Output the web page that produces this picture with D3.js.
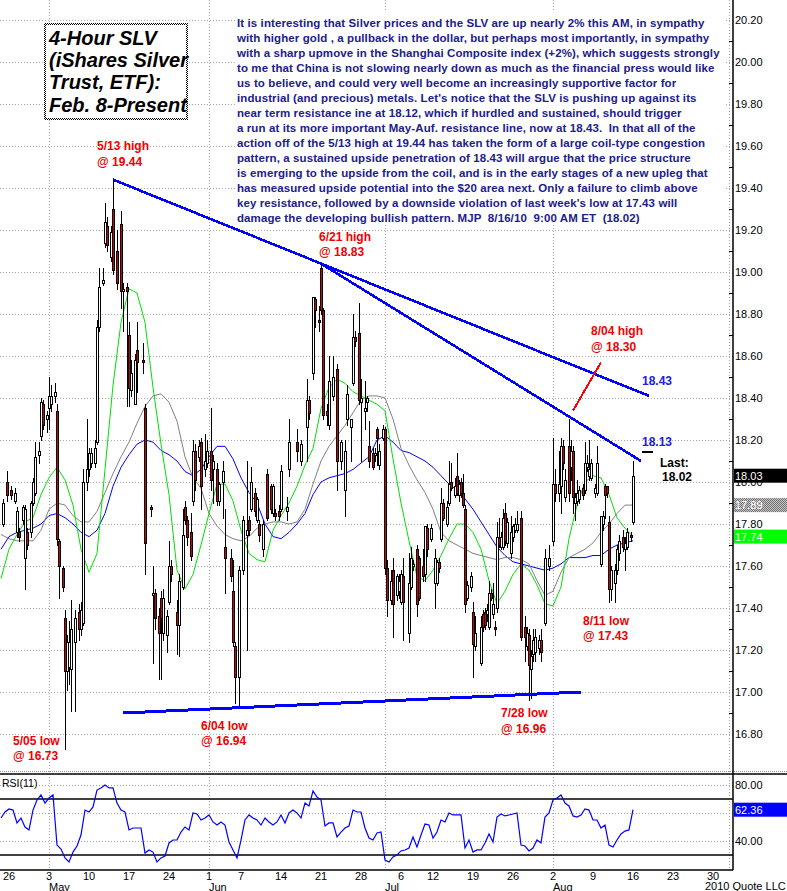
<!DOCTYPE html>
<html><head><meta charset="utf-8">
<script src="https://cdn.jsdelivr.net/npm/d3@7"></script>
<style>
html,body{margin:0;padding:0;background:#fff;}
svg{display:block;font-family:"Liberation Sans",Arial,Helvetica,sans-serif;}
</style></head><body>
<svg id="chart" width="787" height="891"></svg>
<script>
// ---------- price bars (4-hour slots; slot = 4 * tradingDayIndex + bar) ----------
const barSlot  = [2,4,6,8,9,10,12,13,14,16,17,18,20,21,22,24,25,26,28,29,30,32,33,34,35,36,38,40,41,42,44,45,46,48,49,50,52,53,54,56,57,59,61,62,64,65,66,68,69,72,73,76,77,78,80,81,82,84,85,86,89,90,92,93,94,96,97,98,100,101,103,104,106,107,109,110,112,113,116,117,118,120,122,124,125,126,128,129,130,132,134,136,137,138,140,141,144,145,149,151,154,155,157,158,160,161,162,164,165,167,169,171,173,174,176,177,178,180,181,183,184,185,187,188,189,190,192,193,194,196,197,199,200,201,202,205,206,207,209,210,212,213,214,216,218,219,220,221,222,224,225,226,228,229,230,231,232,233,234,236,237,238,241,242,243,244,245,246,247,248,249,250,251,252,253,254,256,257,258,259,261,263,264,265,266,267,268,270,271,273,275,277,278,280,281,282,283,285,286,287,288,289,290,292,293,294,295,296,298,299,301,302,303,304,305,306,308,309,310,312,313,314,316,317];
const barOpen  = [17.80,18.00,17.96,17.91,17.76,17.76,17.82,17.64,17.76,17.76,17.90,17.95,18.13,18.22,18.37,18.30,18.35,18.37,18.41,18.34,17.72,17.59,17.35,17.10,17.12,17.11,17.24,17.38,17.30,17.33,18.00,18.06,18.09,18.09,18.19,18.74,18.95,19.14,19.22,19.07,19.30,19.10,19.23,18.91,18.93,18.70,18.44,18.37,18.63,18.58,18.35,17.88,17.46,17.47,17.36,17.45,17.28,17.27,17.43,17.60,17.38,17.32,17.50,17.88,17.82,17.76,17.91,18.15,18.12,18.19,18.06,18.09,18.15,18.06,18.06,17.91,18.00,17.69,17.64,17.48,17.22,17.07,17.58,17.75,17.82,17.87,17.95,17.82,17.80,17.68,18.04,17.98,17.85,17.85,17.86,17.87,17.86,18.06,18.19,18.10,18.26,18.39,18.52,18.87,18.77,19.02,18.82,18.34,18.27,18.41,18.54,18.10,17.96,18.30,18.26,18.47,18.69,18.71,18.38,18.34,18.38,18.17,18.14,18.13,18.25,18.08,18.21,18.25,17.59,17.44,17.58,17.46,17.48,17.43,17.55,17.28,17.50,17.60,17.68,17.64,17.60,17.56,17.78,17.73,17.52,17.52,17.62,17.73,17.90,17.80,17.90,18.00,17.94,18.03,17.94,18.00,17.95,17.87,17.45,17.50,17.38,17.22,17.14,17.37,17.38,17.37,17.31,17.47,17.37,17.31,17.40,17.74,17.69,17.69,17.85,17.71,17.66,17.74,17.77,17.77,17.83,17.31,17.22,17.27,17.11,17.18,17.19,17.21,17.25,17.33,17.60,17.72,17.99,17.95,17.98,18.17,17.93,18.17,18.07,18.15,17.90,17.91,17.92,17.97,17.96,18.07,18.03,18.02,17.95,17.95,17.61,17.80,17.98,17.98,17.81,17.49,17.52,17.58,17.66,17.74,17.68,17.69,17.75,17.81];
const barHigh  = [17.92,18.05,17.98,17.97,17.88,17.78,17.89,17.89,17.78,17.91,18.02,18.19,18.19,18.40,18.39,18.34,18.50,18.46,18.47,18.37,17.73,17.60,17.39,17.27,17.34,17.44,17.39,17.42,17.43,18.06,18.30,18.16,18.16,18.20,18.77,19.02,19.02,19.33,19.26,19.22,19.44,19.20,19.29,18.95,18.95,18.76,18.58,18.61,18.76,18.66,18.37,17.89,17.60,17.49,17.40,17.48,17.49,17.39,17.72,17.63,17.44,17.56,17.87,17.91,17.84,17.85,18.20,18.18,18.20,18.21,18.23,18.20,18.35,18.13,18.09,18.00,18.10,17.87,17.68,17.63,17.24,17.60,17.84,18.10,17.84,18.07,17.97,17.93,17.82,17.82,18.06,17.99,17.99,17.87,17.89,18.08,17.93,18.30,18.25,18.20,18.49,18.41,18.88,18.88,18.84,19.04,18.83,18.37,18.60,18.60,18.56,18.20,18.20,18.46,18.30,18.80,18.72,18.85,18.49,18.48,18.41,18.29,18.16,18.16,18.26,18.18,18.27,18.26,17.63,17.58,17.64,17.56,17.56,17.58,17.64,17.66,17.69,17.63,17.70,17.65,17.68,17.79,17.80,17.80,17.68,17.63,17.64,17.97,17.92,17.91,18.10,18.09,18.02,18.14,18.01,18.02,18.04,17.89,17.53,17.57,17.43,17.36,17.36,17.39,17.40,17.42,17.53,17.49,17.52,17.34,17.81,17.83,17.76,17.87,17.90,17.83,17.84,17.80,17.83,17.86,17.86,17.36,17.31,17.30,17.20,17.30,17.30,17.27,17.30,17.68,17.70,18.21,18.06,18.15,18.21,18.20,18.06,18.30,18.20,18.17,17.95,18.01,17.98,17.99,18.19,18.13,18.20,18.11,17.99,18.17,17.84,17.86,17.99,17.98,17.84,17.60,17.61,17.70,17.75,17.77,17.74,17.78,17.76,18.10];
const barLow   = [17.79,17.91,17.92,17.90,17.74,17.72,17.80,17.49,17.68,17.74,17.89,17.94,18.09,18.20,18.25,18.24,18.25,18.34,18.38,17.70,17.45,17.48,16.73,17.01,17.04,16.91,16.91,17.25,17.27,17.32,17.96,18.03,18.07,18.07,18.18,18.72,18.94,19.12,19.10,19.05,18.99,18.92,18.83,18.72,18.36,18.36,18.41,18.37,18.43,18.52,17.56,17.84,17.14,17.30,17.06,17.06,17.25,17.19,17.42,17.53,17.18,17.17,17.49,17.80,17.70,17.63,17.89,17.96,18.10,17.87,18.03,18.07,17.96,17.90,17.89,17.89,17.83,17.47,17.53,17.22,16.95,16.94,17.56,17.20,17.75,17.86,17.84,17.81,17.72,17.65,17.82,17.85,17.84,17.82,17.82,17.86,17.82,18.03,18.10,18.08,18.10,18.30,18.49,18.74,18.72,18.80,18.30,18.27,18.25,18.39,17.96,18.06,17.84,18.27,18.10,18.46,18.65,18.37,18.10,18.25,18.34,18.07,18.06,18.10,18.08,18.06,18.20,17.56,17.36,17.42,17.26,17.44,17.45,17.42,17.25,17.24,17.49,17.58,17.36,17.44,17.53,17.53,17.65,17.72,17.40,17.51,17.57,17.72,17.82,17.79,17.89,17.96,17.93,17.94,17.91,17.93,17.88,17.38,17.44,17.48,17.07,17.20,17.13,17.29,17.30,17.34,17.30,17.44,17.35,17.27,17.38,17.69,17.68,17.68,17.70,17.69,17.64,17.72,17.76,17.76,17.25,17.15,17.20,16.96,16.97,17.15,17.15,17.18,17.15,17.32,17.58,17.70,17.91,17.91,17.85,18.06,17.91,17.91,18.01,17.85,17.82,17.89,17.90,17.92,17.95,18.05,18.01,18.01,17.93,17.94,17.60,17.77,17.83,17.93,17.43,17.44,17.43,17.56,17.63,17.67,17.58,17.68,17.72,17.80];
const barClose = [17.90,17.94,17.94,17.95,17.86,17.74,17.88,17.87,17.70,17.90,18.00,18.12,18.15,18.38,18.27,18.32,18.41,18.41,18.43,17.73,17.60,17.50,17.10,17.24,17.24,17.30,17.35,17.30,17.39,18.00,18.06,18.14,18.14,18.16,18.74,18.93,18.96,19.24,19.13,19.19,19.01,18.95,18.91,18.92,18.91,18.45,18.52,18.58,18.57,18.57,17.71,17.87,17.47,17.35,17.28,17.35,17.45,17.36,17.60,17.56,17.32,17.53,17.75,17.82,17.74,17.65,18.15,18.01,18.17,17.98,18.10,18.15,18.01,18.10,17.91,17.99,18.05,17.64,17.55,17.24,17.07,17.58,17.82,17.77,17.77,18.00,17.86,17.92,17.75,17.80,17.83,17.87,17.98,17.84,17.84,18.05,17.88,18.19,18.15,18.18,18.39,18.33,18.88,18.82,18.76,18.82,18.32,18.32,18.48,18.50,18.10,18.19,18.15,18.42,18.30,18.69,18.67,18.39,18.40,18.35,18.40,18.10,18.07,18.14,18.21,18.15,18.25,17.59,17.44,17.53,17.42,17.55,17.53,17.56,17.43,17.52,17.64,17.61,17.42,17.45,17.55,17.79,17.68,17.78,17.64,17.62,17.59,17.90,17.83,17.88,17.99,17.97,17.98,17.95,17.99,17.95,17.89,17.42,17.51,17.55,17.23,17.28,17.31,17.31,17.32,17.39,17.47,17.45,17.42,17.30,17.74,17.70,17.74,17.83,17.72,17.81,17.76,17.79,17.80,17.80,17.26,17.26,17.28,17.13,17.17,17.25,17.26,17.25,17.19,17.64,17.64,17.99,17.95,17.99,18.17,18.09,18.01,17.95,18.15,17.93,17.93,17.95,17.96,17.94,18.09,18.09,18.06,18.09,17.97,18.09,17.84,17.84,17.94,17.95,17.49,17.58,17.58,17.68,17.72,17.69,17.71,17.76,17.74,18.03];

// ---------- moving averages, one reading per trading day ----------
const maFast = [17.54,17.68,17.75,17.81,17.83,17.94,18.02,18.07,18.01,17.89,17.68,17.57,17.66,18.06,18.46,18.76,18.92,18.90,18.76,18.45,18.18,17.94,17.58,17.49,17.56,17.70,17.85,17.99,17.99,17.91,17.77,17.66,17.63,17.62,17.77,17.84,17.90,17.98,18.08,18.16,18.35,18.45,18.49,18.47,18.43,18.41,18.39,18.37,18.34,18.11,17.90,17.72,17.55,17.53,17.58,17.65,17.73,17.80,17.80,17.76,17.68,17.53,17.42,17.48,17.56,17.61,17.58,17.51,17.42,17.41,17.50,17.73,17.89,18.00,18.03,18.02,17.94,17.83,17.78,17.74];
const maMid  = [17.75,17.73,17.72,17.72,17.72,17.77,17.87,17.90,17.89,17.84,17.81,17.81,17.86,17.95,18.04,18.12,18.19,18.28,18.36,18.41,18.42,18.38,18.29,18.12,18.02,17.97,17.85,17.79,17.75,17.73,17.72,17.74,17.78,17.80,17.81,17.81,17.80,17.81,17.87,17.99,18.10,18.17,18.22,18.27,18.33,18.39,18.41,18.41,18.40,18.30,18.16,18.08,18.01,17.95,17.87,17.76,17.72,17.70,17.68,17.66,17.65,17.64,17.63,17.64,17.64,17.63,17.61,17.53,17.46,17.48,17.57,17.64,17.66,17.68,17.71,17.76,17.80,17.85,17.89,17.89];
const maSlow = [17.68,17.74,17.76,17.77,17.78,17.80,17.84,17.85,17.83,17.80,17.76,17.74,17.77,17.85,17.98,18.07,18.13,18.18,18.20,18.19,18.15,18.13,18.10,18.05,18.03,18.06,18.12,18.17,18.17,18.11,18.02,17.95,17.90,17.80,17.74,17.73,17.76,17.80,17.85,17.94,18.00,18.02,18.03,18.04,18.06,18.09,18.12,18.20,18.22,18.19,18.15,18.14,18.12,18.10,18.07,18.03,17.99,17.96,17.92,17.87,17.81,17.75,17.69,17.65,17.62,17.61,17.60,17.59,17.58,17.59,17.61,17.64,17.64,17.64,17.65,17.65,17.68,17.70,17.71,17.72];

// ---------- RSI(11), one reading every second slot starting at slot 1 ----------
const rsiValues = [56.4,60.7,62.9,62.1,52.9,56.4,50,47.9,62.1,69.3,72.9,67.1,70.7,72.9,37.1,34.3,27.9,25,32.1,36.4,44.3,62.1,60.7,64.3,76.4,77.9,80,77.9,77.9,67.1,62.1,60.7,47.9,49.3,49.3,49.3,31.4,33.6,32.1,25,27.9,29.3,38.6,40.7,40.7,46.4,50,47.9,60,59.3,55,56.4,58.6,53.6,51.4,53.6,51.4,39.3,33.6,27.9,40.7,55,58.6,56.4,55,51.4,56.4,53.6,51.4,53.6,58.6,52.9,60,62.1,60,56.4,67.1,65,75.7,71.4,69.3,50.7,52.9,52.9,42.9,46.4,49.3,50.7,62.1,60.7,60.7,49.3,42.1,40.7,45.7,46.4,26.4,25,28.6,30,32.9,33.6,35,42.9,35.7,44.3,52.1,51.4,42.1,46.4,55,53.6,60,58.6,58.6,58.6,35,40.7,32.1,33.6,33.6,38.6,45,39.3,57.1,59.3,57.9,58.6,59.3,60,37.1,36.4,32.9,35,40.7,38.6,57.1,60,69.3,70.7,72.9,67.1,65,57.9,57.1,58.6,62.9,62.1,55,55,49.3,51.4,37.1,35.7,40.7,45,47.1,47.9,62.36];

// ---------- axis ticks ----------
const priceTicks = [16.8,17.0,17.2,17.4,17.6,17.8,18.0,18.2,18.4,18.6,18.8,19.0,19.2,19.4,19.6,19.8,20.0,20.2];
const rsiTickLabels = [40,80];
const rsiGrid = [40,60,80];
const rsiBands = [30,70];

// ---------- drawn trendlines (slot, price) ----------
const resistanceLines = [
  {s1:57, p1:19.44, s2:325, p2:18.41},
  {s1:161, p1:19.04, s2:321, p2:18.10}
];
const supportLine = {s1:62, p1:16.90, s2:291, p2:17.00};
const breakoutMark = {s1:287, p1:18.34, s2:301, p2:18.57};

// ---------- annotations (slot, price of first baseline) ----------
const redNotes = [
  {lines:["5/13 high","@ 19.44"], s:49, p:19.58},
  {lines:["6/21 high","@ 18.83"], s:160, p:19.15},
  {lines:["8/04 high","@ 18.30"], s:296, p:18.70},
  {lines:["5/05 low","@ 16.73"], s:7, p:16.75},
  {lines:["6/04 low","@ 16.94"], s:101, p:16.82},
  {lines:["7/28 low","@ 16.96"], s:251, p:16.88},
  {lines:["8/11 low","@ 17.43"], s:292, p:17.32}
];
const blueNotes = [
  {text:"18.43", s:321.5, p:18.46},
  {text:"18.13", s:321.5, p:18.17}
];
const lastNote = {lines:["Last:","18.02"], s:330.5, p:18.07, dashFrom:321.5, dashTo:327, dashP:18.143};

const titleLines = ["4-Hour SLV","(iShares Silver","Trust, ETF):","Feb. 8-Present"];
const noteLines = [
"It is interesting that Silver prices and the SLV are up nearly 2% this AM, in sympathy",
"with higher gold , a pullback in the dollar, but perhaps most importantly, in sympathy",
"with a sharp upmove in the Shanghai Composite index (+2%), which suggests strongly",
"to me that China is not slowing nearly down as much as the financial press would like",
"us to believe, and could very well become an increasingly supportive factor for",
"industrial (and precious) metals. Let's notice that the SLV is pushing up against its",
"near term resistance ine at 18.12, which if hurdled and sustained, should trigger",
"a run at its more important May-Auf. resistance line, now at 18.43.  In that all of the",
"action off of the 5/13 high at 19.44 has taken the form of a large coil-type congestion",
"pattern, a sustained upside penetration of 18.43 will argue that the price structure",
"is emerging to the upside from the coil, and is in the early stages of a new upleg that",
"has measured upside potential into the $20 area next. Only a failure to climb above",
"key resistance, followed by a downside violation of last week's low at 17.43 will",
"damage the developing bullish pattern. MJP  8/16/10  9:00 AM ET  (18.02)"
];

// ---------- trading calendar ----------
const holidays = ["2010-05-31","2010-07-05"];
const fmtKey = d3.timeFormat("%Y-%m-%d");
const tradingDays = [];
for (let d = new Date(2010,3,23); d <= new Date(2010,8,3); d.setDate(d.getDate()+1)) {
  const wd = d.getDay();
  if (wd > 0 && wd < 6 && !holidays.includes(fmtKey(d))) tradingDays.push(new Date(d));
}
const SLOTS_PER_DAY = 4;
const daySlot = i => i * SLOTS_PER_DAY + 1;

// ---------- layout ----------
const W = 787, H = 891, axisX = 733;
const mainBottom = 771, rsiTop = 774, rsiBottom = 870;
const svg = d3.select("#chart");
const x = d3.scaleLinear().domain([0, 367]).range([-1, axisX]);
const y = d3.scaleLinear().domain([16.8, 20.2]).range([734, 20]);
const yR = d3.scaleLinear().domain([40, 80]).range([841, 785]);

const defs = svg.append("defs");
const chk = defs.append("pattern").attr("id","checker").attr("width",2).attr("height",2).attr("patternUnits","userSpaceOnUse");
chk.append("rect").attr("width",2).attr("height",2).attr("fill","#fff");
chk.append("rect").attr("width",1).attr("height",1).attr("fill","#000");
chk.append("rect").attr("x",1).attr("y",1).attr("width",1).attr("height",1).attr("fill","#000");
const chkG = defs.append("pattern").attr("id","checkerGray").attr("width",2).attr("height",2).attr("patternUnits","userSpaceOnUse");
chkG.append("rect").attr("width",2).attr("height",2).attr("fill","#c8c8c8");
chkG.append("rect").attr("width",1).attr("height",1).attr("fill","#707070");
chkG.append("rect").attr("x",1).attr("y",1).attr("width",1).attr("height",1).attr("fill","#707070");
defs.append("clipPath").attr("id","mainClip").append("rect").attr("x",0).attr("y",0).attr("width",axisX).attr("height",mainBottom);
defs.append("clipPath").attr("id","rsiClip").append("rect").attr("x",0).attr("y",rsiTop).attr("width",axisX).attr("height",rsiBottom-rsiTop);

svg.append("rect").attr("width",W).attr("height",H).attr("fill","#fff");

const gridColor = "#a8a8a8";
// horizontal price grid
svg.append("g").selectAll("line").data(priceTicks).join("line")
  .attr("x1",0).attr("x2",axisX)
  .attr("y1",d=>Math.round(y(d))+0.5).attr("y2",d=>Math.round(y(d))+0.5)
  .attr("stroke",gridColor).attr("stroke-dasharray","1,2");
// rsi grid
svg.append("g").selectAll("line").data(rsiGrid).join("line")
  .attr("x1",0).attr("x2",axisX)
  .attr("y1",d=>Math.round(yR(d))+0.5).attr("y2",d=>Math.round(yR(d))+0.5)
  .attr("stroke",gridColor).attr("stroke-dasharray","1,2");

// month boundaries
const monthStarts = [];
tradingDays.forEach((d,i)=>{ if (i>0 && d.getMonth() !== tradingDays[i-1].getMonth()) monthStarts.push(i); });
svg.append("g").selectAll("line").data(monthStarts).join("line")
  .attr("x1",i=>Math.round(x(daySlot(i)))+0.5).attr("x2",i=>Math.round(x(daySlot(i)))+0.5)
  .attr("y1",0).attr("y2",rsiBottom)
  .attr("stroke",gridColor).attr("stroke-dasharray","1,2");

// commentary block
svg.append("rect").attr("x",235).attr("y",11).attr("width",490).attr("height",214).attr("fill","#fff");
svg.append("g").selectAll("text").data(noteLines).join("text")
  .attr("x",237).attr("y",(d,i)=>26.5+i*15)
  .attr("font-size","11.5px").attr("letter-spacing","0.1px").attr("font-weight","bold").attr("fill","#20208c")
  .style("white-space","pre").text(d=>d);

// title box
svg.append("rect").attr("x",45).attr("y",24).attr("width",142).attr("height",95)
  .attr("fill","#fff").attr("stroke","url(#checker)").attr("stroke-width",2);
svg.append("g").selectAll("text").data(titleLines).join("text")
  .attr("x",49).attr("y",(d,i)=>44.5+i*22.4)
  .attr("font-size","20px").attr("font-weight","bold").attr("font-style","italic").attr("fill","#000")
  .text(d=>d);

// ---------- main panel ----------
const main = svg.append("g").attr("clip-path","url(#mainClip)");
const maLine = d3.line().x((v,i)=>x(daySlot(i))).y(v=>y(v));
main.append("path").attr("d",maLine(maSlow)).attr("fill","none").attr("stroke","#0000ff").attr("stroke-width",1);
main.append("path").attr("d",maLine(maMid)).attr("fill","none").attr("stroke","#808080").attr("stroke-width",1);
main.append("path").attr("d",maLine(maFast)).attr("fill","none").attr("stroke","#00e000").attr("stroke-width",1);

const bars = barSlot.map((s,i)=>({s, o:barOpen[i], h:barHigh[i], l:barLow[i], c:barClose[i]}));
const cg = main.append("g").attr("shape-rendering","crispEdges");
bars.forEach(b=>{
  const X = Math.round(x(b.s));
  cg.append("line").attr("x1",X+0.5).attr("x2",X+0.5)
    .attr("y1",Math.round(y(b.h))).attr("y2",Math.round(y(b.l))+1)
    .attr("stroke","#000");
  const top = Math.round(y(Math.max(b.o,b.c))), bot = Math.round(y(Math.min(b.o,b.c)));
  cg.append("rect").attr("x",X-0.5).attr("y",top+0.5).attr("width",2).attr("height",Math.max(bot-top,1))
    .attr("fill", b.c >= b.o ? "#fff" : "#d40000").attr("stroke","#000").attr("stroke-width",1);
});

// trendlines
const tl = main.append("g").attr("shape-rendering","crispEdges");
resistanceLines.forEach(L=>{
  tl.append("line").attr("x1",x(L.s1)).attr("y1",y(L.p1)).attr("x2",x(L.s2)).attr("y2",y(L.p2))
    .attr("stroke","#0000ff").attr("stroke-width",2.6);
});
tl.append("line").attr("x1",x(supportLine.s1)).attr("y1",y(supportLine.p1)).attr("x2",x(supportLine.s2)).attr("y2",y(supportLine.p2))
  .attr("stroke","#0000ff").attr("stroke-width",3);
tl.append("line").attr("x1",x(breakoutMark.s1)).attr("y1",y(breakoutMark.p1)).attr("x2",x(breakoutMark.s2)).attr("y2",y(breakoutMark.p2))
  .attr("stroke","#ff0000").attr("stroke-width",2);

// annotations
redNotes.forEach(n=>{
  n.lines.forEach((t,k)=>{
    svg.append("text").attr("x",x(n.s)).attr("y",y(n.p)+k*15.5)
      .attr("font-size","12px").attr("font-weight","bold").attr("fill","#f00000").text(t);
  });
});
blueNotes.forEach(n=>{
  svg.append("text").attr("x",x(n.s)).attr("y",y(n.p))
    .attr("font-size","12px").attr("font-weight","bold").attr("fill","#2020e0").text(n.text);
});
lastNote.lines.forEach((t,k)=>{
  svg.append("text").attr("x",x(lastNote.s)+k*2).attr("y",y(lastNote.p)+k*14)
    .attr("font-size","12px").attr("font-weight","bold").attr("fill","#000").text(t);
});
svg.append("line").attr("x1",x(lastNote.dashFrom)).attr("x2",x(lastNote.dashTo))
  .attr("y1",y(lastNote.dashP)).attr("y2",y(lastNote.dashP)).attr("stroke","#000").attr("stroke-width",2);

// ---------- RSI panel ----------
const rsiG = svg.append("g");
rsiG.append("g").selectAll("line").data(rsiBands).join("line")
  .attr("x1",0).attr("x2",axisX).attr("y1",d=>Math.round(yR(d))).attr("y2",d=>Math.round(yR(d)))
  .attr("stroke","#000").attr("stroke-width",1.5);
const rsiLine = d3.line().x((v,i)=>x(1+2*i)).y(v=>yR(v));
rsiG.append("path").attr("clip-path","url(#rsiClip)").attr("d",rsiLine(rsiValues))
  .attr("fill","none").attr("stroke","#0000ff").attr("stroke-width",1.2);
rsiG.append("text").attr("x",2).attr("y",787).attr("font-size","10.5px").attr("fill","#000").text("RSI(11)");

// panel frame
svg.append("line").attr("x1",0).attr("x2",W).attr("y1",mainBottom+0.5).attr("y2",mainBottom+0.5)
  .attr("stroke","#909090").attr("stroke-dasharray","1,1");
svg.append("line").attr("x1",0).attr("x2",W).attr("y1",rsiTop).attr("y2",rsiTop).attr("stroke","#000").attr("stroke-width",1.5);
svg.append("line").attr("x1",0).attr("x2",axisX).attr("y1",rsiBottom).attr("y2",rsiBottom).attr("stroke","#000").attr("stroke-width",1.5);
svg.append("line").attr("x1",axisX).attr("x2",axisX).attr("y1",0).attr("y2",rsiBottom).attr("stroke","#000").attr("stroke-width",1.5);

// ---------- right axis ----------
const fmt2 = d3.format(".2f");
svg.append("g").selectAll("text").data(priceTicks).join("text")
  .attr("x",axisX+2).attr("y",d=>y(d)+4).attr("font-size","11px").attr("fill","#000").text(d=>fmt2(d));
const minorTicks = priceTicks.map(p=>p+0.1).filter(p=>p<20.3);
svg.append("g").selectAll("line").data(minorTicks).join("line")
  .attr("x1",axisX-4).attr("x2",axisX).attr("y1",d=>Math.round(y(d))+0.5).attr("y2",d=>Math.round(y(d))+0.5)
  .attr("stroke","#000");
svg.append("g").selectAll("text").data(rsiTickLabels).join("text")
  .attr("x",axisX+2).attr("y",d=>yR(d)+4).attr("font-size","11px").attr("fill","#000").text(d=>fmt2(d));

// last-value tags
const tags = [
  {v:barClose[barClose.length-1], fill:"#000", scale:y},
  {v:maMid[maMid.length-1], fill:"url(#checkerGray)", scale:y},
  {v:maFast[maFast.length-1], fill:"#00ff00", scale:y},
  {v:rsiValues[rsiValues.length-1], fill:"#0000ff", scale:yR}
];
tags.forEach(t=>{
  const cy = t.scale(t.v);
  svg.append("rect").attr("x",axisX+1).attr("y",cy-7).attr("width",W-axisX-1).attr("height",14).attr("fill",t.fill);
  svg.append("text").attr("x",axisX+2).attr("y",cy+4).attr("font-size","11px").attr("fill","#fff").text(fmt2(t.v));
});

// ---------- time axis ----------
const weekStarts = [];
tradingDays.forEach((d,i)=>{ if (i>0 && d.getDay() < tradingDays[i-1].getDay()) weekStarts.push(i); });
svg.append("g").selectAll("text").data(weekStarts.filter(i=>x(daySlot(i))<axisX)).join("text")
  .attr("x",i=>x(daySlot(i))).attr("y",880).attr("text-anchor","middle")
  .attr("font-size","11px").attr("fill","#000").text(i=>tradingDays[i].getDate());
const fmtMon = d3.timeFormat("%b");
svg.append("g").selectAll("text").data(monthStarts.filter(i=>x(daySlot(i))<700)).join("text")
  .attr("x",i=>x(daySlot(i))).attr("y",890.5)
  .attr("font-size","11px").attr("fill","#000").text(i=>fmtMon(tradingDays[i]));
svg.append("text").attr("x",705).attr("y",889.5).attr("font-size","11px").attr("fill","#000").text("2010 Quote LLC");
</script>
</body></html>
